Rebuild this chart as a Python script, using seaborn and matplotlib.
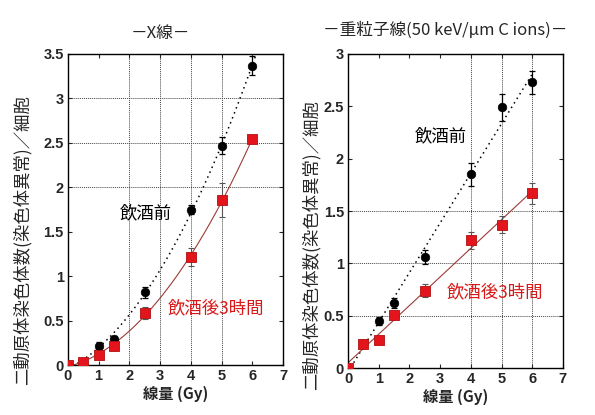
import numpy as np
import pandas as pd
import matplotlib
matplotlib.use("Agg")
import matplotlib.pyplot as plt
import seaborn as sns

# データ
dose = [0, 0.5, 1, 1.5, 2.5, 4, 5, 6]

# X線
xray_before = [0, 0.03, 0.22, 0.30, 0.82, 1.75, 2.47, 3.37]
xray_before_err = [0, 0, 0.04, 0.03, 0.06, 0.05, 0.10, 0.11]
xray_after = [0, 0.04, 0.11, 0.22, 0.59, 1.22, 1.86, 2.54]
xray_after_err = [0, 0.01, 0.02, 0.03, 0.07, 0.10, 0.19, 0.02]

# 重粒子線
ion_before = [0, 0.23, 0.45, 0.62, 1.06, 1.85, 2.49, 2.73]
ion_before_err = [0, 0.04, 0.04, 0.05, 0.07, 0.11, 0.13, 0.11]
ion_after = [0, 0.23, 0.27, 0.51, 0.74, 1.22, 1.37, 1.67]
ion_after_err = [0, 0.04, 0.04, 0.04, 0.06, 0.08, 0.08, 0.10]

sns.set_style("ticks")
plt.rcParams['font.family'] = ['Noto Sans CJK JP', 'DejaVu Sans']

RED = "#e4141c"
LINE_RED = "#9c3b36"

fig = plt.figure(figsize=(5.95, 4.15), dpi=100)
ax1 = fig.add_axes([0.114, 0.120, 0.362, 0.750])
ax2 = fig.add_axes([0.585, 0.113, 0.361, 0.757])


def draw_panel(ax, before, before_err, after, after_err, order, ymax, vgrid, hgrid, extend):
    df = pd.DataFrame({"dose": dose, "before": before, "after": after})
    ax.set_xlim(0, 7)
    ax.set_ylim(0, ymax)
    # 格子線（一部のみ）
    for gx in vgrid:
        ax.axvline(gx, color="#444444", lw=0.7, ls=(0, (1, 1)), zorder=0)
    for gy in hgrid:
        ax.axhline(gy, color="#444444", lw=0.7, ls=(0, (1, 1)), zorder=0)
    # フィット曲線
    sns.regplot(data=df, x="dose", y="before", order=order, ci=None, scatter=False,
                ax=ax, truncate=not extend,
                line_kws=dict(color="black", lw=1.1, ls=(0, (1, 2.5)), zorder=2))
    sns.regplot(data=df, x="dose", y="after", order=order, ci=None, scatter=False,
                ax=ax, line_kws=dict(color=LINE_RED, lw=0.8, zorder=2))
    # 誤差棒
    ax.errorbar(df["dose"], df["before"], yerr=before_err, fmt="none",
                ecolor="black", elinewidth=0.9, capsize=2.5, capthick=0.9, zorder=3)
    ax.errorbar(df["dose"], df["after"], yerr=after_err, fmt="none",
                ecolor="#555555", elinewidth=0.8, capsize=2.5, capthick=0.8, zorder=3)
    # マーカー
    sns.scatterplot(data=df[df["dose"] > 0], x="dose", y="before", ax=ax, marker="o",
                    s=38, color="black", edgecolor="black", zorder=4)
    sns.scatterplot(data=df, x="dose", y="after", ax=ax, marker="s",
                    s=55, color=RED, edgecolor="#b01010", linewidth=0.6, zorder=5)
    ax.set_xlim(0, 7)
    ax.set_ylim(0, ymax)
    ax.set_xticks(range(0, 8))
    ax.set_yticks(np.arange(0, ymax + 0.01, 0.5))
    ax.set_yticklabels([f"{v:g}" for v in np.arange(0, ymax + 0.01, 0.5)])
    ax.tick_params(direction="in", top=True, right=True, length=3, width=0.8,
                   labelsize=10.5, pad=3)
    for lab in ax.get_xticklabels() + ax.get_yticklabels():
        lab.set_fontweight("bold")
        lab.set_fontfamily(["Liberation Sans", "DejaVu Sans"])
    for sp in ax.spines.values():
        sp.set_linewidth(1.0)
        sp.set_color("black")
    ax.set_xlabel("線量 (Gy)", fontsize=11, fontweight="bold", labelpad=2)
    ax.set_ylabel("")


draw_panel(ax1, xray_before, xray_before_err, xray_after, xray_after_err,
           2, 3.5, [2, 3, 4, 5], [2, 2.5, 3], True)
draw_panel(ax2, ion_before, ion_before_err, ion_after, ion_after_err,
           1, 3, [4, 5, 6], [0.5, 1, 1.5], False)

ylab = "二動原体染色体数(染色体異常)／細胞"
fig.text(22 / 595, 1 - 240 / 415, ylab, rotation=90, ha="center", va="center", fontsize=12.5)
fig.text(311 / 595, 1 - 245 / 415, ylab, rotation=90, ha="center", va="center", fontsize=12.5)

fig.text(160 / 595, 1 - 33 / 415, "－X線－", ha="center", va="center", fontsize=12)
fig.text(445 / 595, 1 - 30 / 415, "－重粒子線(50 keV/μm C ions)－", ha="center", va="center",
         fontsize=12)

ax1.text(1.69, 1.71, "飲酒前", fontsize=12.5, color="black", ha="left", va="center")
ax1.text(3.25, 0.64, "飲酒後3時間", fontsize=12.5, color="#d81818", ha="left", va="center")
ax2.text(2.18, 2.21, "飲酒前", fontsize=12.5, color="black", ha="left", va="center")
ax2.text(3.22, 0.72, "飲酒後3時間", fontsize=12.5, color="#d81818", ha="left", va="center")

fig.savefig("out.png", dpi=100)
